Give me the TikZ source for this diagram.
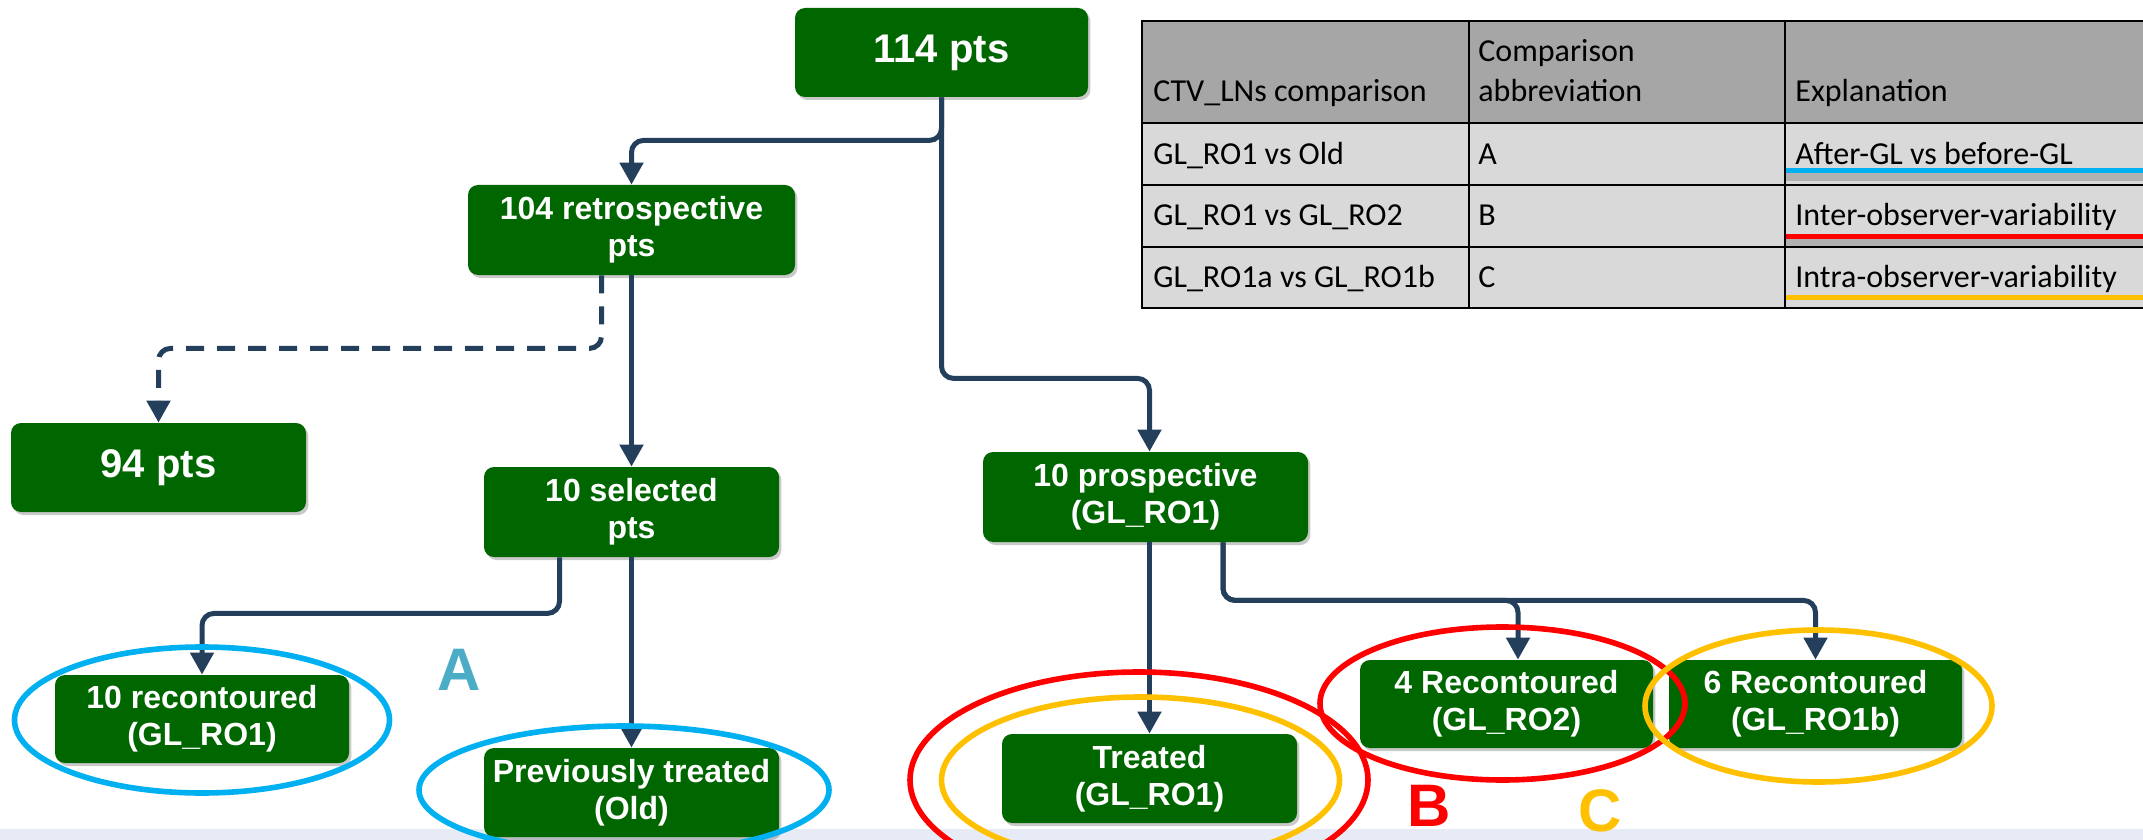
\documentclass[tikz,border=0pt]{standalone}
\usepackage{fontspec}
\setmainfont{Liberation Sans}
\newfontfamily\tabfont{Carlito}
\usetikzlibrary{arrows.meta,shadows}
\definecolor{boxgreen}{HTML}{006600}
\definecolor{conncol}{HTML}{243F5C}
\definecolor{elblue}{HTML}{00B0F0}
\definecolor{elred}{HTML}{FF0000}
\definecolor{elyellow}{HTML}{FFC000}
\definecolor{acol}{HTML}{4BACC6}
\definecolor{hdrgray}{HTML}{A6A6A6}
\definecolor{rowgray}{HTML}{D9D9D9}
\definecolor{bandcol}{HTML}{E6EBF5}
\begin{document}
\begin{tikzpicture}[x=0.5pt,y=-0.5pt,
  gbox/.style={fill=boxgreen, rounded corners=5pt, text=white,
    font=\bfseries\fontsize{16}{18.5}\selectfont, align=center, inner sep=0pt,
    minimum height=44.5pt,
    drop shadow={shadow xshift=1.2pt, shadow yshift=-1.5pt, opacity=0.3, fill=black!70}},
  bigtext/.style={font=\bfseries\fontsize{20}{24}\selectfont},
  conn/.style={draw=conncol, line width=2.5pt, rounded corners=6pt,
    -{Triangle[length=11pt,width=11.5pt]}},
  ring/.style={line width=2.8pt},
  tline/.style={line width=1.2pt, black},
  tcell/.style={font=\tabfont\fontsize{16}{19}\selectfont, anchor=base west, inner sep=0pt},
  uline/.style={line width=2.5pt},
  ushadow/.style={line width=4pt, black, opacity=0.18},
  letter/.style={font=\bfseries\fontsize{30}{30}\selectfont, inner sep=0pt}]
\useasboundingbox (0,0) rectangle (2143,840);
% bottom band
\fill[bandcol] (0,829) rectangle (2143,840);

% table
\fill[hdrgray] (1142,21) rectangle (2143,123);
\fill[rowgray] (1142,123) rectangle (2143,308);
\draw[ushadow] (1785,177) -- (2143,177);
\draw[ushadow] (1785,242) -- (2143,242);
\draw[uline, elblue] (1785,171) -- (2143,171);
\draw[uline, elred] (1785,236) -- (2143,236);
\draw[uline, elyellow] (1785,297.5) -- (2143,297.5);
\draw[tline] (2143,21) -- (1142,21) -- (1142,308) -- (2143,308);
\draw[tline] (1142,123) -- (2143,123);
\draw[tline] (1142,185) -- (1785,185);
\draw[tline] (1142,247) -- (1785,247);
\draw[tline] (1785,185) -- (2143,185);
\draw[tline] (1785,247) -- (2143,247);
\draw[tline] (1469,21) -- (1469,308);
\draw[tline] (1785,21) -- (1785,308);
\node[tcell] (h1) at (1153,102) {CTV\_LNs comparison};
\node[tcell] (h2a) at (1478,62) {Comparison};
\node[tcell] (h2b) at (1478,102) {abbreviation};
\node[tcell] (h3) at (1795,102) {Explanation};
\node[tcell] (a1) at (1153,164) {GL\_RO1 vs Old};
\node[tcell] (a2) at (1478,164) {A};
\node[tcell] (a3) at (1795,164) {After-GL vs before-GL};
\node[tcell] (b1) at (1153,226) {GL\_RO1 vs GL\_RO2};
\node[tcell] (b2) at (1478,226) {B};
\node[tcell] (b3) at (1795,226) {Inter-observer-variability};
\node[tcell] (c1) at (1153,287) {GL\_RO1a vs GL\_RO1b};
\node[tcell] (c2) at (1478,287) {C};
\node[tcell] (c3) at (1795,287) {Intra-observer-variability};

% boxes
\node[gbox, bigtext, minimum width=146.5pt] (n114) at (941.5,52.5) {114 pts};
\node[gbox, minimum width=163.5pt, minimum height=45pt] (retro) at (631.5,230) {104 retrospective\\pts};
\node[gbox, bigtext, minimum width=147.5pt] (n94) at (158.5,467.5) {94 pts};
\node[gbox, minimum width=147.5pt, minimum height=45pt] (sel) at (631.5,512) {10 selected\\pts};
\node[gbox, minimum width=162.5pt, minimum height=45pt] (pro) at (1145.5,497) {10 prospective\\(GL\_RO1)};
\node[gbox, minimum width=147pt, minimum height=44pt] (rec) at (202,719) {10 recontoured\\(GL\_RO1)};
\node[gbox, minimum width=147.5pt] (prev) at (631.5,792.5) {Previously treated\\(Old)};
\node[gbox, minimum width=147.5pt] (tr) at (1149.5,778.5) {Treated\\(GL\_RO1)};
\node[gbox, minimum width=146.5pt, minimum height=44pt] (r4) at (1506.5,704) {4 Recontoured\\(GL\_RO2)};
\node[gbox, minimum width=146.5pt, minimum height=44pt] (r6) at (1815.5,704) {6 Recontoured\\(GL\_RO1b)};

% connectors
\draw[conn] (n114.south) -- ++(0,43) -| (retro.north);
\draw[conn] (n114.south) -- ++(0,281) -| (pro.north -| tr.north);
\draw[conn, dash pattern=on 9pt off 6.5pt] ([xshift=-15pt]retro.south) -- ++(0,73) -| (n94.north);
\draw[conn] (retro.south) -- (sel.north);
\draw[conn] ([xshift=-36pt]sel.south) -- ++(0,56) -| (rec.north);
\draw[conn] (sel.south) -- (prev.north);
\draw[conn] (pro.south -| tr.north) -- (tr.north);
\draw[conn] ([xshift=38.75pt]pro.south) -- ++(0,58) -| ([xshift=5.75pt]r4.north);
\draw[conn] ([xshift=38.75pt]pro.south) -- ++(0,58) -| (r6.north);

% rings
\draw[ring, elblue] (202,720) ellipse [x radius=93.75pt, y radius=36.5pt];
\draw[ring, elblue] (624,790) ellipse [x radius=102.5pt, y radius=32pt];
\draw[ring, elred] (1139,780) ellipse [x radius=114.5pt, y radius=54pt];
\draw[ring, elyellow] (1140.5,780) ellipse [x radius=99.5pt, y radius=41.5pt];
\draw[ring, elred] (1502.5,703.5) ellipse [x radius=91.25pt, y radius=38.25pt];
\draw[ring, elyellow] (1818.5,706) ellipse [x radius=86.75pt, y radius=38pt];

% letters
\node[letter, text=acol] (la) at (459,670) {A};
\node[letter, text=elred] (lb) at (1429,806) {B};
\node[letter, text=elyellow] (lc) at (1600,811) {C};
\end{tikzpicture}
\end{document}
